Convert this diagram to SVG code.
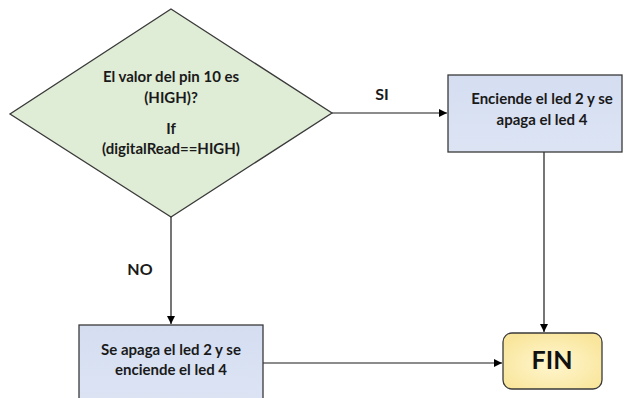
<svg xmlns="http://www.w3.org/2000/svg" width="624" height="398" viewBox="0 0 624 398">
  <defs>
    <marker id="arrow" viewBox="0 0 10 10" refX="10" refY="5" markerWidth="8" markerHeight="8" markerUnits="userSpaceOnUse" orient="auto">
      <path d="M0,0 L10,5 L0,10 z" fill="#000"/>
    </marker>
    <radialGradient id="finFill" cx="50%" cy="55%" r="60%">
      <stop offset="0" stop-color="#fff6cf"/>
      <stop offset="1" stop-color="#f9e69c"/>
    </radialGradient>
    <linearGradient id="boxFill" x1="0" y1="0" x2="0" y2="1">
      <stop offset="0" stop-color="#d5def1"/>
      <stop offset="1" stop-color="#dce4f4"/>
    </linearGradient>
  </defs>
  <style>
    .shape { stroke: #3a3a3a; stroke-width: 1.3; }
    .decision { fill: #dfecd6; }
    .process { fill: url(#boxFill); }
    .terminal { fill: url(#finFill); }
    .txt { font-family: Lato, "Liberation Sans", sans-serif; font-weight: bold; font-size: 15px; fill: #1a1a1a; text-anchor: middle; }
    .lbl { font-family: Lato, "Liberation Sans", sans-serif; font-weight: bold; font-size: 16px; fill: #1a1a1a; text-anchor: middle; }
    .fin { font-family: Lato, "Liberation Sans", sans-serif; font-weight: bold; font-size: 25px; fill: #111; text-anchor: middle; }
    .conn { fill: none; stroke: #1a1a1a; stroke-width: 1.2; marker-end: url(#arrow); }
  </style>

  <rect width="624" height="398" fill="#ffffff"/>

  <g id="connectors">
    <line class="conn" x1="332" y1="113" x2="447" y2="113"/>
    <line class="conn" x1="171" y1="217" x2="171" y2="324"/>
    <line class="conn" x1="544" y1="152" x2="544" y2="332"/>
    <line class="conn" x1="263" y1="363" x2="502" y2="363"/>
  </g>

  <g id="decision">
    <polygon class="shape decision" points="171,9 332,113 171,217 10,114"/>
    <text class="txt" x="171" y="82">El valor del pin 10 es</text>
    <text class="txt" x="171" y="103">(HIGH)?</text>
    <text class="txt" x="171" y="134">If</text>
    <text class="txt" x="171" y="154">(digitalRead==HIGH)</text>
  </g>

  <g id="label-si">
    <text class="lbl" x="382" y="99.5">SI</text>
  </g>

  <g id="label-no">
    <text class="lbl" x="140" y="275">NO</text>
  </g>

  <g id="led-on">
    <rect class="shape process" x="448" y="75" width="174" height="77"/>
    <text class="txt" x="542" y="104">Enciende el led 2 y se</text>
    <text class="txt" x="542" y="125">apaga el led 4</text>
  </g>

  <g id="led-off">
    <rect class="shape process" x="79" y="325" width="184" height="80"/>
    <text class="txt" x="171" y="355">Se apaga el led 2 y se</text>
    <text class="txt" x="171" y="375">enciende el led 4</text>
  </g>

  <g id="fin">
    <rect class="shape terminal" x="503" y="333" width="99" height="56" rx="9" ry="9"/>
    <text class="fin" x="552" y="369">FIN</text>
  </g>
</svg>
